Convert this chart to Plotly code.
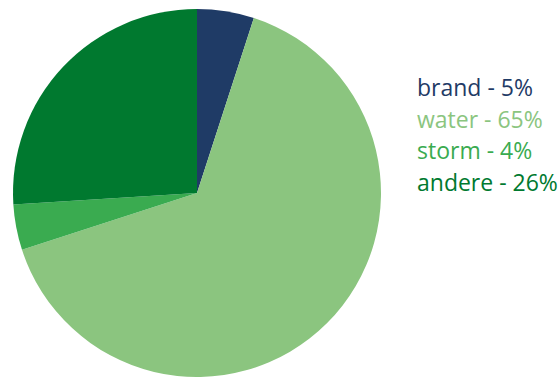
import plotly.graph_objects as go

labels = ["brand", "water", "storm", "andere"]
values = [5, 65, 4, 26]
colors = ["#1f3b66", "#8bc57f", "#3aab50", "#00792f"]

W, H = 560, 377
T = 9
PH = H - T

fig = go.Figure(go.Pie(
    labels=labels,
    values=values,
    sort=False,
    direction="clockwise",
    rotation=0,
    marker=dict(colors=colors, line=dict(width=0)),
    textinfo="none",
    hoverinfo="label+percent",
    showlegend=False,
    domain=dict(x=[11 / W, 383 / W], y=[0, 1]),
))

# Coloured legend text to the right of the pie
y0, dy = 87, 31.7
for i, (lab, val, col) in enumerate(zip(labels, values, colors)):
    fig.add_annotation(
        x=415 / W, y=1 - (y0 + i * dy - T) / PH,
        xref="paper", yref="paper",
        xanchor="left", yanchor="middle",
        text=f"{lab} - {val}%",
        showarrow=False,
        font=dict(family="Open Sans, sans-serif", size=23, color=col),
    )

fig.update_layout(
    width=W, height=H,
    margin=dict(l=0, r=0, t=T, b=0),
    paper_bgcolor="white",
    plot_bgcolor="white",
)

fig.write_html("out.html")
